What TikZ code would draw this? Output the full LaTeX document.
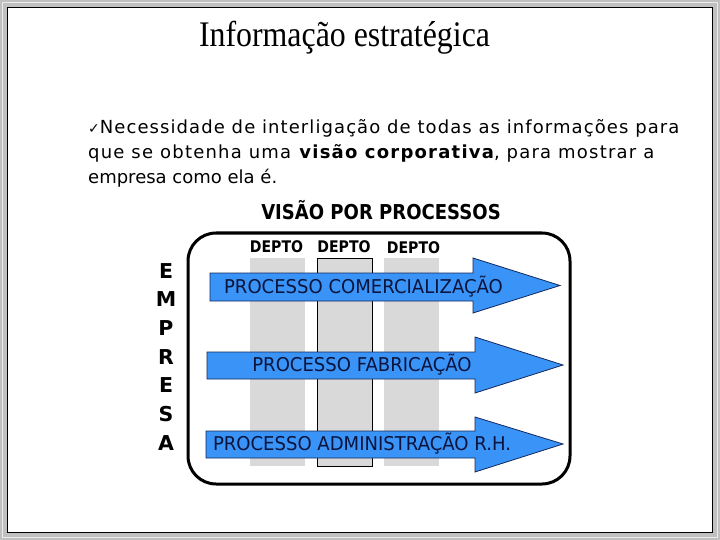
\documentclass[tikz,border=0pt]{standalone}
\usepackage{fontspec}
\setmainfont{Liberation Serif}
\newfontfamily\titlefont[FakeStretch=0.885]{Liberation Serif}
\newfontfamily\bodyA[LetterSpace=6.0]{DejaVu Sans}
\newfontfamily\bodyB[LetterSpace=6.8]{DejaVu Sans}
\newfontfamily\bodyC{DejaVu Sans}
\newfontfamily\checkfont{DejaVu Sans}
\newfontfamily\labfont[FakeStretch=0.88]{DejaVu Sans}
\newfontfamily\empfont{DejaVu Sans}
\newfontfamily\arrfont[FakeStretch=0.95]{DejaVu Sans}
\definecolor{arrowblue}{RGB}{58,148,248}
\definecolor{arrowedge}{RGB}{20,40,90}
\definecolor{arrowtext}{RGB}{10,20,60}
\definecolor{colgray}{RGB}{217,217,217}
\definecolor{framegray}{RGB}{192,192,192}
\tikzset{
  txt/.style={inner sep=0pt, anchor=base},
  colbox/.style={fill=colgray, draw=none, inner sep=0pt, minimum width=55pt, minimum height=208pt},
  colboxb/.style={colbox, draw=black, line width=1pt},
  procarrow/.style={fill=arrowblue, draw=arrowedge, line width=0.8pt, line join=miter},
  arrtxt/.style={txt, text=arrowtext, font=\arrfont\fontsize{19}{19}\selectfont},
  lab/.style={txt, font=\labfont\bfseries\fontsize{16}{16}\selectfont},
  emp/.style={txt, font=\empfont\bfseries\fontsize{20.5}{20.5}\selectfont},
  body/.style={anchor=base west, inner sep=0pt}
}
\begin{document}
\begin{tikzpicture}[x=1pt,y=-1pt]
\useasboundingbox (0,0) rectangle (720,540);
% frame
\fill[framegray] (0,0) rectangle (720,540);
\draw[white!85!gray, line width=1pt] (2.5,2.5) rectangle (717.5,537.5);
\fill[white] (8,8) rectangle (712,532);
\draw[black, line width=1pt] (7.5,7.5) rectangle (712.5,532.5);
% title
\node[txt, font=\titlefont\fontsize{36}{36}\selectfont] (title) at (344.5,47) {Informação estratégica};
% body text
\node[body, font=\bodyA\fontsize{18}{18}\selectfont] (l1) at (88,134) {{\checkfont\fontsize{14}{14}\selectfont ✓}Necessidade de interligação de todas as informações para};
\node[body, font=\bodyB\fontsize{18}{18}\selectfont] (l2) at (88,159) {que se obtenha uma \textbf{visão corporativa}, para mostrar a};
\node[body, font=\bodyC\fontsize{18}{18}\selectfont] (l3) at (88,184) {empresa como ela é.};
% heading
\node[txt, font=\labfont\bfseries\fontsize{20.5}{20.5}\selectfont] (vis) at (381,220) {VISÃO POR PROCESSOS};
% enterprise box
\draw[line width=3pt, rounded corners=28pt] (188,233) rectangle (570,484);
% columns
\node[colbox] (c1) at (277.5,362) {};
\node[colboxb] (c2) at (344.5,362) {};
\node[colbox] (c3) at (411.5,362) {};
\node[lab] (d1) at (276.5,252.3) {DEPTO};
\node[lab] (d2) at (344,252.3) {DEPTO};
\node[lab] (d3) at (413.5,254) {DEPTO};
% process arrows
\draw[procarrow] (210,273) -- (473,273) -- (473,258) -- (560,285.5) -- (473,313) -- (473,301) -- (210,301) -- cycle;
\draw[procarrow] (207,352) -- (475,352) -- (475,337) -- (563,365) -- (475,393) -- (475,379) -- (207,379) -- cycle;
\draw[procarrow] (206,431) -- (475,431) -- (475,417) -- (563,444) -- (475,472) -- (475,458) -- (206,458) -- cycle;
\node[arrtxt] (p1) at (363.5,293.5) {PROCESSO COMERCIALIZAÇÃO};
\node[arrtxt] (p2) at (362,371.7) {PROCESSO FABRICAÇÃO};
\node[arrtxt] (p3) at (362,450.7) {PROCESSO ADMINISTRAÇÃO R.H.};
% EMPRESA
\node[emp] (e1) at (166,278) {E};
\node[emp] (e2) at (166,306.7) {M};
\node[emp] (e3) at (166,335.4) {P};
\node[emp] (e4) at (166,364.1) {R};
\node[emp] (e5) at (166,392.8) {E};
\node[emp] (e6) at (166,421.5) {S};
\node[emp] (e7) at (166,450.2) {A};
\end{tikzpicture}
\end{document}
